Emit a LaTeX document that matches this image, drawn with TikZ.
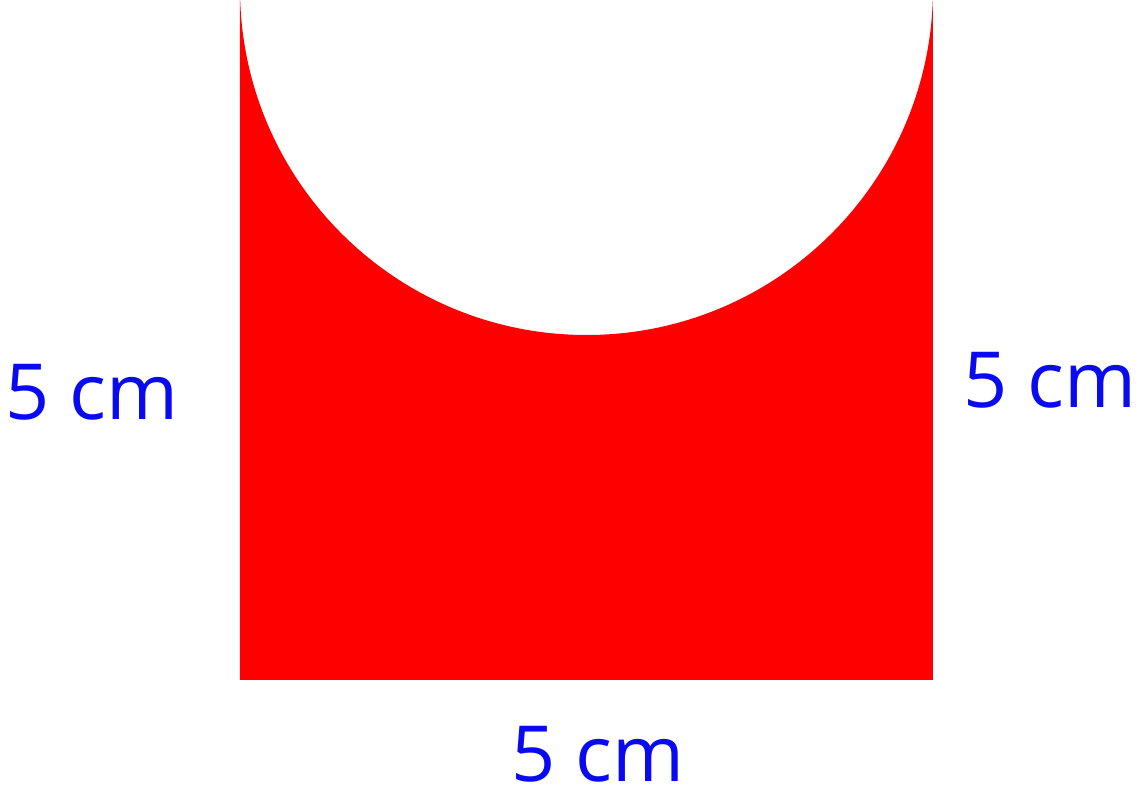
\documentclass[tikz,border=0pt]{standalone}
\usepackage{fontspec}
\setmainfont{Open Sans}
\definecolor{ShapeRed}{HTML}{FF0000}
\definecolor{LabelBlue}{HTML}{0A0AF0}
\usepackage{tikz}
\usetikzlibrary{positioning}

\begin{document}
\begin{tikzpicture}[x=0.01cm, y=0.01cm, every node/.style={font=\fontsize{22}{26}\selectfont, color=LabelBlue, inner sep=1pt}]
      \useasboundingbox (0,0) rectangle (1141,796);
      \clip (0,0) rectangle (1141,796);

      % Square with half disc cut out
      \fill[ShapeRed] (240,116) -- (933,116) -- (933,807.5) arc[start angle=0, end angle=-180, radius=346.5] -- cycle;

      % Side lengths
      \node (sideleft) at (92,404) {5 cm};
      \node (sideright) at (1050,416) {5 cm};
      \node (sidebottom) at (598,42) {5 cm};
    \end{tikzpicture}
\end{document}
